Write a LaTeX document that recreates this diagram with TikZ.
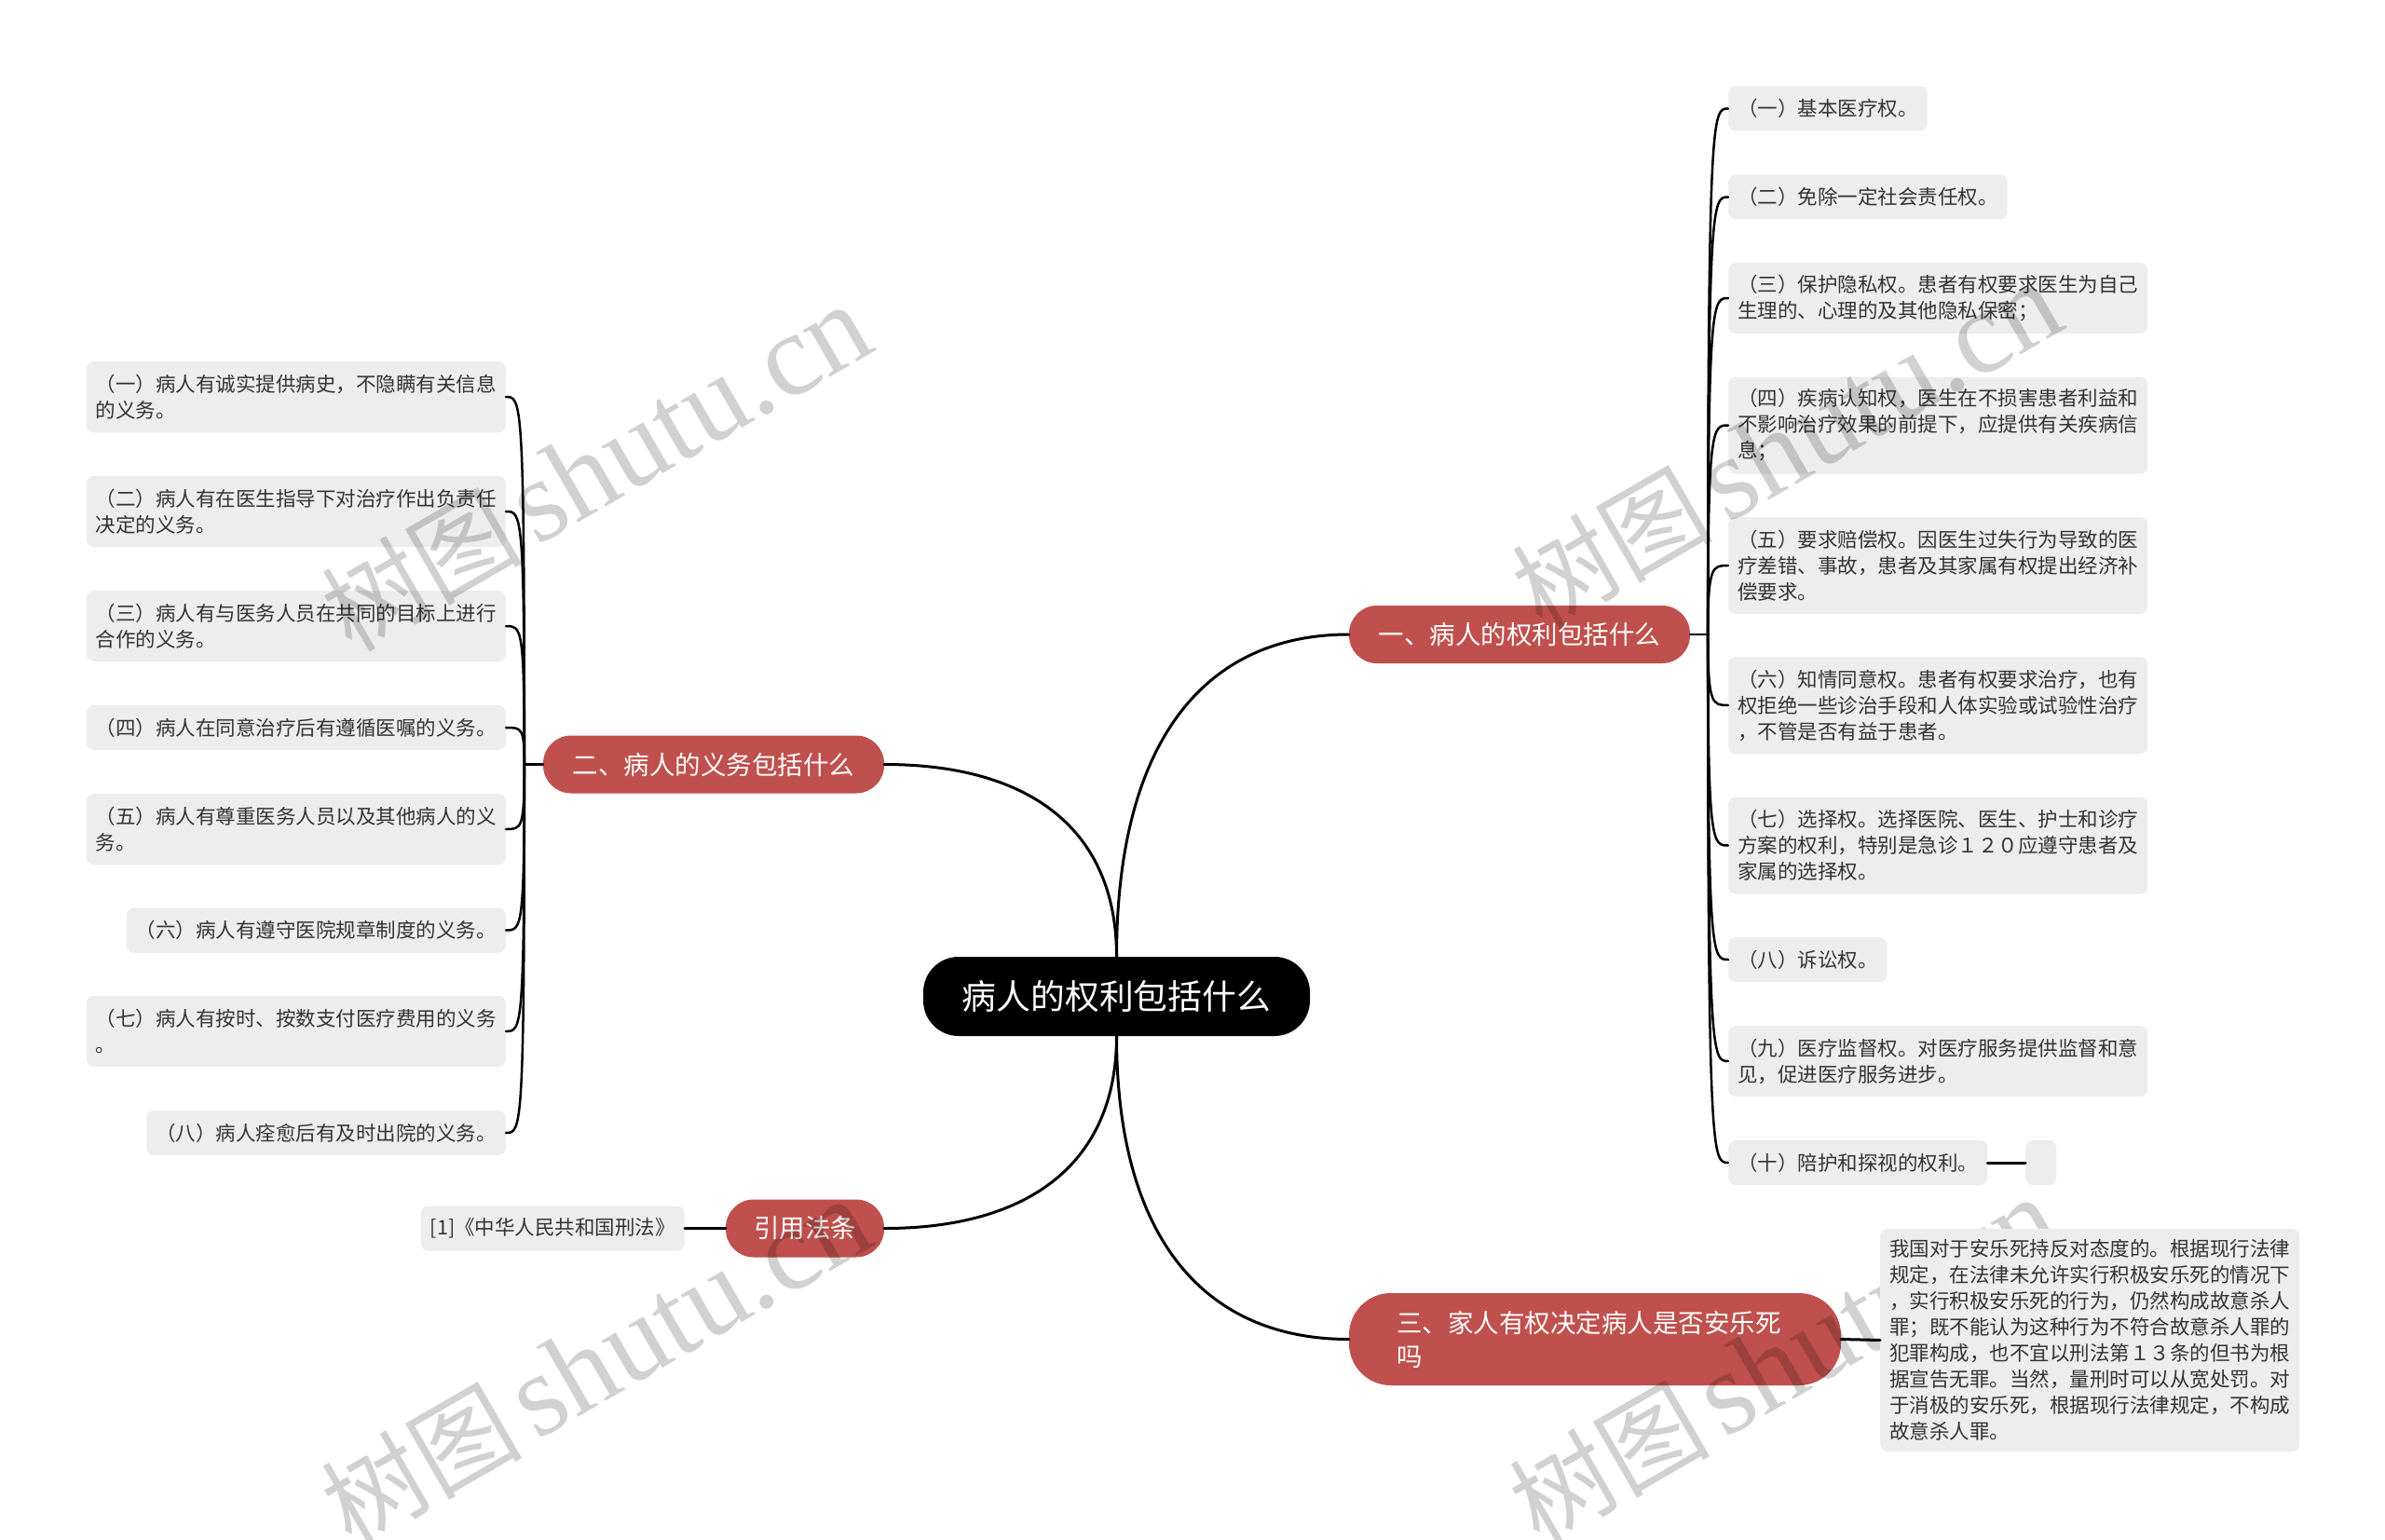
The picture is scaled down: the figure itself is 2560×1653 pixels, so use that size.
\documentclass[tikz,border=0pt]{standalone}
\usepackage{fontspec}
\setmainfont{Noto Sans CJK SC}
\newfontfamily\wmlat{Liberation Serif}
\definecolor{branchred}{HTML}{C0504D}
\definecolor{leafgray}{HTML}{EDEDED}
\definecolor{leaftext}{HTML}{333333}
\newcommand{\wmtext}{{\fontsize{108}{110}\selectfont 树图}\hspace{14pt}{\wmlat\fontsize{126}{130}\selectfont shutu.cn}}
\begin{document}
\begin{tikzpicture}[x=1pt,y=-1pt,
  centre/.style={fill=black,text=white,rounded corners=38pt,minimum width=415pt,minimum height=85pt,inner sep=0pt,font=\fontsize{36.8}{44}\selectfont},
  branch/.style={fill=branchred,text=white,rounded corners=30pt,minimum height=62pt,inner sep=0pt,font=\fontsize{27.5}{36}\selectfont},
  leaf/.style={fill=leafgray,text=leaftext,rounded corners=8pt,inner xsep=10pt,inner ysep=0pt,align=left,font=\fontsize{21.5}{28}\selectfont},
  lone/.style={leaf,minimum height=48pt},
  ltwo/.style={leaf,minimum height=76pt},
  lthree/.style={leaf,minimum height=104pt},
  mainline/.style={line width=3pt,line cap=round},
  subline/.style={line width=2.5pt,line cap=round},
  wm/.style={text=black,text opacity=0.18,anchor=base west,rotate=30,inner sep=0pt}]
\fill[white] (0,0) rectangle (2560,1653);
\useasboundingbox (0,0) rectangle (2560,1653);

% centre and main branches
\node[centre] (c) at (1198.5,1069.5) {病人的权利包括什么};
\node[branch,minimum width=366pt] (b1) at (1631,681) {一、病人的权利包括什么};
\node[branch,minimum width=366pt] (b2) at (766,820.5) {二、病人的义务包括什么};
\node[branch,minimum width=170pt] (b4) at (864,1318.5) {引用法条};
\node[branch,minimum height=99pt,text width=426pt,inner xsep=51pt,align=left,rounded corners=45pt] (b3) at (1712,1437.5) {三、家人有权决定病人是否安乐死\\吗};

% right leaves
\node[lone,anchor=west] (r1) at (1855,116.5) {（一）基本医疗权。};
\node[lone,anchor=west] (r2) at (1855,211.5) {（二）免除一定社会责任权。};
\node[ltwo,anchor=west] (r3) at (1855,320) {（三）保护隐私权。患者有权要求医生为自己\\生理的、心理的及其他隐私保密；};
\node[lthree,anchor=west] (r4) at (1855,456.5) {（四）疾病认知权，医生在不损害患者利益和\\不影响治疗效果的前提下，应提供有关疾病信\\息；};
\node[lthree,anchor=west] (r5) at (1855,607) {（五）要求赔偿权。因医生过失行为导致的医\\疗差错、事故，患者及其家属有权提出经济补\\偿要求。};
\node[lthree,anchor=west] (r6) at (1855,757) {（六）知情同意权。患者有权要求治疗，也有\\权拒绝一些诊治手段和人体实验或试验性治疗\\，不管是否有益于患者。};
\node[lthree,anchor=west] (r7) at (1855,907.5) {（七）选择权。选择医院、医生、护士和诊疗\\方案的权利，特别是急诊１２０应遵守患者及\\家属的选择权。};
\node[lone,anchor=west] (r8) at (1855,1030) {（八）诉讼权。};
\node[ltwo,anchor=west] (r9) at (1855,1139) {（九）医疗监督权。对医疗服务提供监督和意\\见，促进医疗服务进步。};
\node[lone,anchor=west] (r10) at (1855,1248) {（十）陪护和探视的权利。};
\node[lone,anchor=west,minimum width=33pt,inner xsep=0pt] (r10x) at (2174,1248) {};

% left leaves
\node[ltwo,anchor=east] (l1) at (543,426) {（一）病人有诚实提供病史，不隐瞒有关信息\\的义务。};
\node[ltwo,anchor=east] (l2) at (543,549) {（二）病人有在医生指导下对治疗作出负责任\\决定的义务。};
\node[ltwo,anchor=east] (l3) at (543,672) {（三）病人有与医务人员在共同的目标上进行\\合作的义务。};
\node[lone,anchor=east] (l4) at (543,781) {（四）病人在同意治疗后有遵循医嘱的义务。};
\node[ltwo,anchor=east] (l5) at (543,890) {（五）病人有尊重医务人员以及其他病人的义\\务。};
\node[lone,anchor=east] (l6) at (543,998.5) {（六）病人有遵守医院规章制度的义务。};
\node[ltwo,anchor=east] (l7) at (543,1107) {（七）病人有按时、按数支付医疗费用的义务\\。};
\node[lone,anchor=east] (l8) at (543,1216) {（八）病人痊愈后有及时出院的义务。};

% lower-right watermark lies beneath the last leaf
\node[wm] (w4) at (1652,1660) {\wmtext};

% other leaves
\node[lone,anchor=east] (law) at (735,1318.5) {[1]《中华人民共和国刑法》};
\node[leaf,anchor=west,minimum height=239pt] (eu) at (2018,1438.5) {我国对于安乐死持反对态度的。根据现行法律\\规定，在法律未允许实行积极安乐死的情况下\\，实行积极安乐死的行为，仍然构成故意杀人\\罪；既不能认为这种行为不符合故意杀人罪的\\犯罪构成，也不宜以刑法第１３条的但书为根\\据宣告无罪。当然，量刑时可以从宽处罚。对\\于消极的安乐死，根据现行法律规定，不构成\\故意杀人罪。};

% connectors from centre
\draw[mainline] (c.north) .. controls +(0,-227) and +(-158,0) .. (b1.west);
\draw[mainline] (c.north) .. controls +(0,-136) and +(157,0) .. (b2.east);
\draw[mainline] (c.south) .. controls +(0,135) and +(157,0) .. (b4.east);
\draw[mainline] (c.south) .. controls +(0,213) and +(-158,0) .. (b3.west);

% right bracket
\coordinate (rs) at ([xshift=19pt]b1.east);
\draw[subline] (b1.east) -- (rs);
\foreach \n in {r1,r2,r3,r4,r5,r6,r7,r8,r9,r10}
  \draw[subline] (rs) .. controls (rs |- \n.west) and ([xshift=-17pt]\n.west) .. (\n.west);

% left bracket
\coordinate (ls) at ([xshift=-20pt]b2.west);
\draw[subline] (b2.west) -- (ls);
\foreach \n in {l1,l2,l3,l4,l5,l6,l7,l8}
  \draw[subline] (ls) .. controls (ls |- \n.east) and ([xshift=17pt]\n.east) .. (\n.east);

\draw[mainline] (b3.east) -- (eu.west);
\draw[mainline] (b4.west) -- (law.east);
\draw[mainline] (r10.east) -- (r10x.west);

% watermarks
\node[wm] (w1) at (377,702) {\wmtext};
\node[wm] (w2) at (1655,678) {\wmtext};
\node[wm] (w3) at (377,1662) {\wmtext};
\end{tikzpicture}
\end{document}
